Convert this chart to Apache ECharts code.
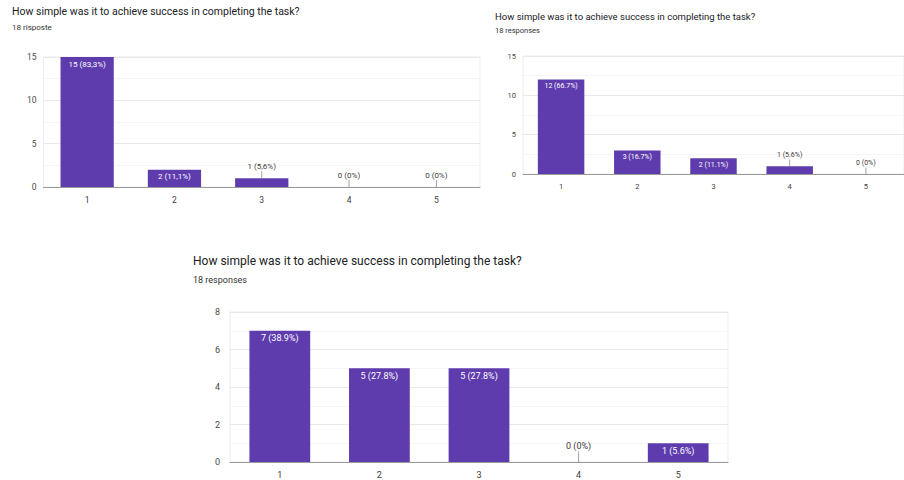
<!DOCTYPE html>
<html>
<head>
<meta charset="utf-8">
<script src="https://cdn.jsdelivr.net/npm/echarts@6/dist/echarts.min.js"></script>
<style>
html,body{margin:0;padding:0;background:#fff;}
#c{width:904px;height:480px;}
</style>
</head>
<body>
<div id="c"></div>
<script>
const categories = ['1', '2', '3', '4', '5'];

const titleText = 'How simple was it to achieve success in completing the task?';
const subtitle1 = '18 risposte';
const subtitle2 = '18 responses';
const subtitle3 = '18 responses';

const counts1 = [15, 2, 1, 0, 0];
const labels1 = ['15 (83,3%)', '2 (11,1%)', '1 (5,6%)', '0 (0%)', '0 (0%)'];

const counts2 = [12, 3, 2, 1, 0];
const labels2 = ['12 (66.7%)', '3 (16.7%)', '2 (11.1%)', '1 (5.6%)', '0 (0%)'];

const counts3 = [7, 5, 5, 0, 1];
const labels3 = ['7 (38.9%)', '5 (27.8%)', '5 (27.8%)', '0 (0%)', '1 (5.6%)'];

const yMax1 = 15, yStep1 = 5;
const yMax2 = 15, yStep2 = 5;
const yMax3 = 8, yStep3 = 2;

const BAR = '#5e3cae';
const FONT = 'Roboto, "Noto Sans", Arial, sans-serif';

function labelRenderer(labels, fs, off) {
  return function (params, api) {
    const x = api.value(0), v = api.value(1);
    const top = api.coord([x, v]);
    const base = api.coord([x, 0]);
    const h = base[1] - top[1];
    const txt = labels[params.dataIndex];
    if (h >= 12) {
      return {
        type: 'text',
        style: { text: txt, x: top[0], y: top[1] + fs * 0.5 + 3, align: 'center', verticalAlign: 'middle',
                 fill: '#ffffff', font: fs + 'px ' + FONT }
      };
    }
    return {
      type: 'group',
      children: [
        { type: 'line', shape: { x1: top[0], y1: top[1], x2: top[0], y2: top[1] - off + fs * 0.5 + 1 },
          style: { stroke: '#a0a0a0', lineWidth: 1 } },
        { type: 'text', style: { text: txt, x: top[0], y: top[1] - off, align: 'center', verticalAlign: 'middle',
                 fill: '#3c3c3c', font: fs + 'px ' + FONT } }
      ]
    };
  };
}

function xAxis(gi, fs, margin) {
  return {
    type: 'category', gridIndex: gi, data: categories,
    axisTick: { show: false },
    axisLine: { lineStyle: { color: '#9a9a9a', width: 1 } },
    axisLabel: { color: '#3c3c3c', fontSize: fs, fontFamily: FONT, margin: margin }
  };
}
function yAxis(gi, max, step, fs, margin) {
  return {
    type: 'value', gridIndex: gi, min: 0, max: max, interval: step,
    axisLine: { show: false }, axisTick: { show: false },
    axisLabel: { color: '#4a4a4a', fontSize: fs, fontFamily: FONT, margin: margin },
    splitLine: { lineStyle: { color: '#e8e8e8' } },
    minorTick: { show: false, splitNumber: 2 },
    minorSplitLine: { show: true, lineStyle: { color: '#f5f5f5' } }
  };
}
function barSeries(i, data) {
  return { type: 'bar', xAxisIndex: i, yAxisIndex: i, data: data, barCategoryGap: '39%',
           itemStyle: { color: BAR }, silent: true, animation: false };
}
function labSeries(i, data, labels, fs, off) {
  return { type: 'custom', xAxisIndex: i, yAxisIndex: i, z: 5,
           data: data.map((v, k) => [k, v]), encode: { x: 0, y: 1 },
           renderItem: labelRenderer(labels, fs, off), silent: true, animation: false };
}

const chart = echarts.init(document.getElementById('c'), null, { renderer: 'svg' });
chart.setOption({
  backgroundColor: '#ffffff',
  animation: false,
  title: [
    { text: titleText, subtext: subtitle1, left: 12, top: 6, padding: 0, itemGap: 6,
      textStyle: { fontSize: 10.5, fontWeight: 'normal', color: '#202124', fontFamily: FONT },
      subtextStyle: { fontSize: 8, color: '#333', fontFamily: FONT } },
    { text: titleText, subtext: subtitle2, left: 495, top: 11, padding: 0, itemGap: 5,
      textStyle: { fontSize: 9.5, fontWeight: 'normal', color: '#202124', fontFamily: FONT },
      subtextStyle: { fontSize: 7.5, color: '#333', fontFamily: FONT } },
    { text: titleText, subtext: subtitle3, left: 193, top: 255, padding: 0, itemGap: 8,
      textStyle: { fontSize: 12, fontWeight: 'normal', color: '#202124', fontFamily: FONT },
      subtextStyle: { fontSize: 9, color: '#333', fontFamily: FONT } }
  ],
  grid: [
    { left: 43.5, top: 57, width: 436.5, height: 130, show: true, borderColor: '#ececec', borderWidth: 1 },
    { left: 523, top: 56, width: 391, height: 118, show: true, borderColor: '#ececec', borderWidth: 1 },
    { left: 230, top: 312, width: 498, height: 150, show: true, borderColor: '#ececec', borderWidth: 1 }
  ],
  xAxis: [xAxis(0, 8.5, 8), xAxis(1, 7.5, 8), xAxis(2, 9, 8)],
  yAxis: [yAxis(0, yMax1, yStep1, 8.5, 7), yAxis(1, yMax2, yStep2, 7.5, 7), yAxis(2, yMax3, yStep3, 9, 10)],
  series: [
    barSeries(0, counts1), labSeries(0, counts1, labels1, 8, 12),
    barSeries(1, counts2), labSeries(1, counts2, labels2, 7, 11),
    barSeries(2, counts3), labSeries(2, counts3, labels3, 9, 16)
  ]
});
</script>
</body>
</html>
